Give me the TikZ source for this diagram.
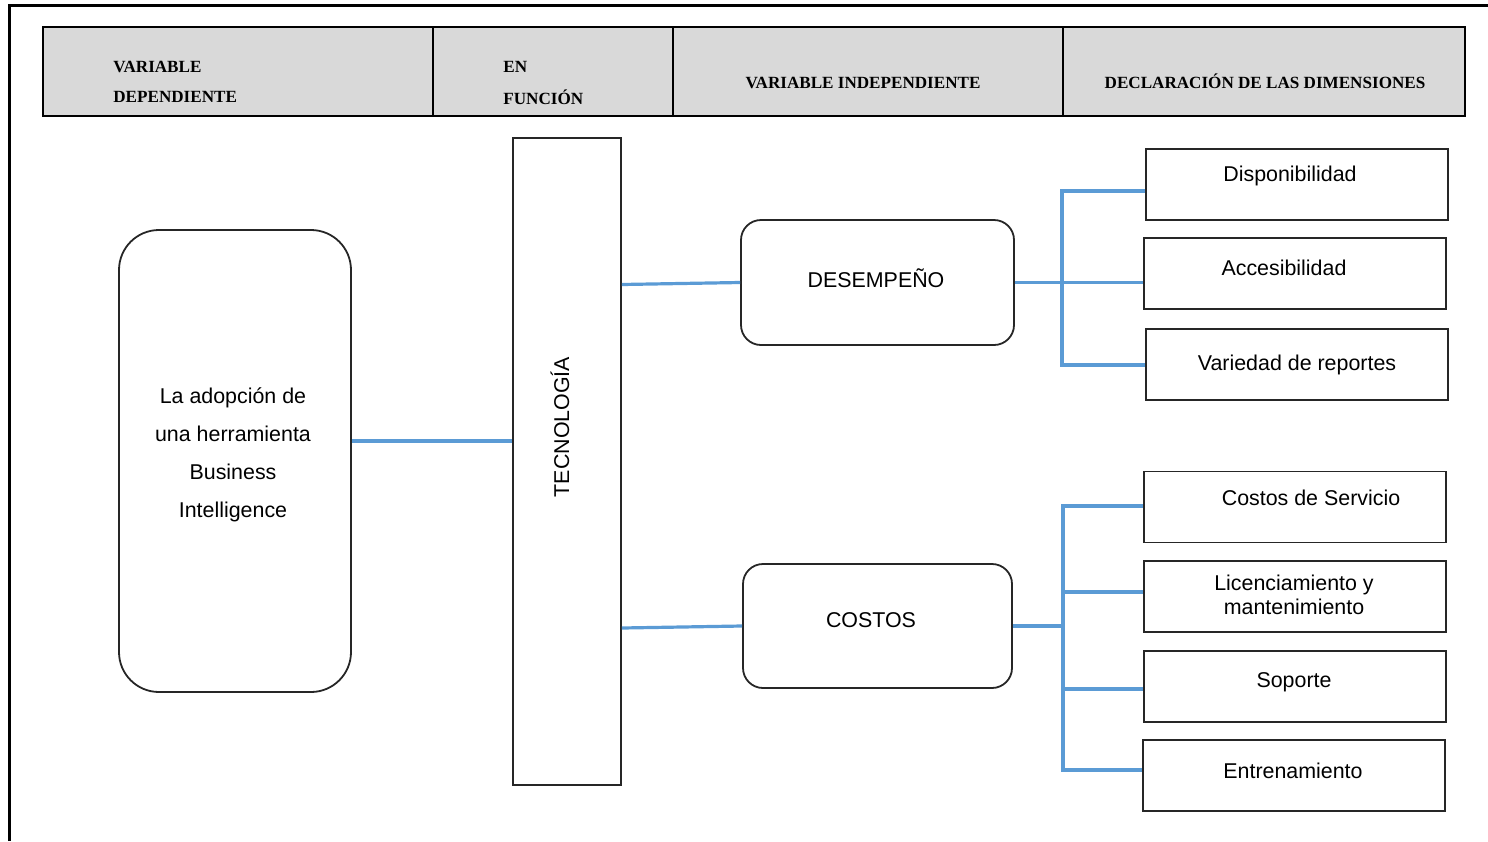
\documentclass[tikz,border=0pt]{standalone}
\usepackage{fontspec}
\setmainfont{Liberation Sans}
\newfontfamily\hdrfont{Liberation Serif}
\definecolor{hdrgray}{HTML}{D9D9D9}
\definecolor{linkblue}{HTML}{5B9BD5}
\begin{document}
\begin{tikzpicture}[x=0.5pt,y=-0.5pt,
  hdr/.style={font=\hdrfont\bfseries\fontsize{8.55}{15}\selectfont, inner sep=0},
  txt/.style={font=\fontsize{10.7}{13}\selectfont, inner sep=0},
  dimbox/.style={draw=black!85, line width=0.9pt, minimum width=151pt, minimum height=35.5pt, inner sep=0},
  rbox/.style={draw=black!85, line width=0.9pt, rounded corners=10pt, inner sep=0},
  link/.style={draw=linkblue, line width=1.6pt}]
\useasboundingbox (0,0) rectangle (1488,841);
% outer frame
\draw[line width=1.5pt] (9,841) -- (9,5) -- (1490,5);
% header
\draw[fill=hdrgray, line width=0.9pt] (43,27) rectangle (1465,116);
\draw[line width=0.9pt] (433,27) -- (433,116) (673,27) -- (673,116) (1063,27) -- (1063,116);
\node[hdr, anchor=west] (h1a) at (113,67) {VARIABLE};
\node[hdr, anchor=west] (h1b) at (113,97) {DEPENDIENTE};
\node[hdr, anchor=west] (h2a) at (503,67) {EN};
\node[hdr, anchor=west] (h2b) at (503,97) {FUNCIÓN};
\node[hdr] (h3) at (863,83) {VARIABLE INDEPENDIENTE};
\node[hdr] (h4) at (1265,81) {DECLARACIÓN DE LAS DIMENSIONES};
% left box
\node[draw=black!85, line width=0.9pt, rounded corners=20pt, minimum width=116pt, minimum height=231pt] (lbox) at (235,461) {};
\node[txt, align=center, font=\fontsize{10.7}{19}\selectfont] (ltxt) at (233,455) {La adopción de\\una herramienta\\Business\\Intelligence};
% technology
\node[draw=black!85, line width=0.9pt, minimum width=54pt, minimum height=323.5pt, inner sep=0] (tech) at (567,461.5) {};
\node[txt, rotate=90] (techtxt) at (560,427) {TECNOLOGÍA};
% middle boxes
\node[rbox, minimum width=136.5pt, minimum height=62.5pt] (des) at (877.5,282.5) {};
\node[txt] (destxt) at (876,278) {DESEMPEÑO};
\node[rbox, minimum width=134.5pt, minimum height=62pt] (cos) at (877.5,626) {};
\node[txt] (costxt) at (871,620) {COSTOS};
% dimension boxes
\node[dimbox] (d1) at (1297,184.5) {};
\node[txt] at (1290,176) {Disponibilidad};
\node[dimbox] (d2) at (1295,273.5) {};
\node[txt] at (1284,268) {Accesibilidad};
\node[dimbox] (d3) at (1297,364.5) {};
\node[txt] at (1297,365) {Variedad de reportes};
\node[dimbox] (c1) at (1295,507) {};
\node[txt] at (1311,498) {Costos de Servicio};
\node[dimbox] (c2) at (1295,596.5) {};
\node[txt, align=center, font=\fontsize{10.7}{12.2}\selectfont] at (1294,595) {Licenciamiento y\\mantenimiento};
\node[dimbox] (c3) at (1295,686.5) {};
\node[txt] at (1294,682) {Soporte};
\node[dimbox] (c4) at (1294,775.5) {};
\node[txt] at (1293,771) {Entrenamiento};
% connectors
\path (lbox.east) ++(0,-20) coordinate (a1);
\draw[link] (a1) -- (a1 -| tech.west);
\draw[link] (tech.east |- des.west) ++(0,2) -- (des.west);
\draw[link] (tech.east |- cos.west) ++(0,2) -- (cos.west);
\coordinate (s1) at (1062,191);
\coordinate (s3) at (1062,365);
\draw[link] (d1.west |- s1) -- (s1) -- (s3) -- (d3.west |- s3);
\draw[link] (des.east) -- (des.east -| d2.west);
\coordinate (t1) at (1063,506);
\coordinate (t2) at (1063,592);
\coordinate (t3) at (1063,689);
\coordinate (t4) at (1063,770);
\draw[link] (c1.west |- t1) -- (t1) -- (t4) -- (c4.west |- t4);
\draw[link] (t2) -- (t2 -| c2.west);
\draw[link] (t3) -- (t3 -| c3.west);
\draw[link] (cos.east) -- (cos.east -| t1);
\end{tikzpicture}
\end{document}
